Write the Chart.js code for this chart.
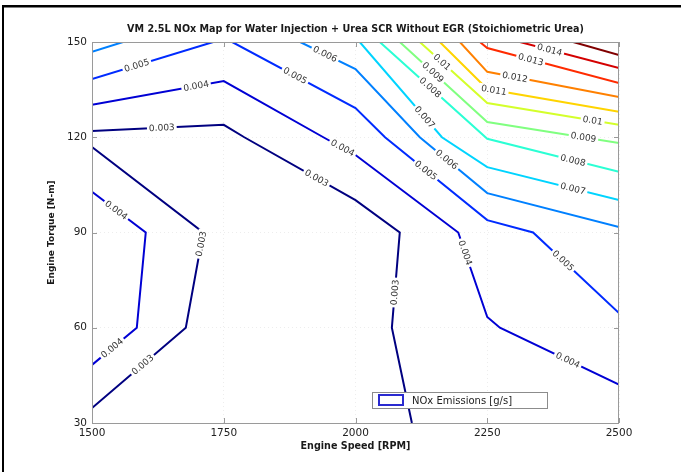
<!DOCTYPE html>
<html>
<head>
<meta charset="utf-8">
<script src="https://cdn.jsdelivr.net/npm/chart.js@4.4.1/dist/chart.umd.min.js"></script>
<style>
  html, body { margin: 0; padding: 0; background: #fff; }
  #wrap { position: relative; width: 681px; height: 472px; }
  canvas { display: block; }
</style>
</head>
<body>
<div id="wrap"><canvas id="c" width="681" height="472"></canvas></div>
<script>
// Axis ticks
const rpmTicks = [1500, 1750, 2000, 2250, 2500];
const torqueTicks = [30, 60, 90, 120, 150];

// Contour levels of NOx emissions [g/s]
const levels = [0.003, 0.004, 0.005, 0.006, 0.007, 0.008, 0.009, 0.010, 0.011, 0.012, 0.013, 0.014, 0.015];

// Contour polylines per level: [engine speed RPM, engine torque N-m]
const nox003 = [
  [[1500, 122.0], [1750, 123.9], [1789, 120], [2000, 100.2], [2084, 90], [2069, 60], [2107, 30]],
  [[1500, 116.9], [1711, 90], [1678, 60], [1500, 34.7]]
];
const nox004 = [
  [[1500, 130.2], [1750, 137.7], [1939, 120], [2000, 114.4], [2195, 90], [2250, 63.4], [2274, 60], [2500, 42.1]],
  [[1500, 102.8], [1602, 90], [1585, 60], [1500, 48.3]]
];
const nox005 = [
  [[1500, 138.3], [1730, 150]],
  [[1766, 150], [2000, 129.2], [2056, 120], [2250, 93.9], [2337, 90], [2500, 64.6]]
];
const nox006 = [
  [[1500, 146.9], [1559, 150]],
  [[1895, 150], [2000, 141.5], [2122, 120], [2250, 102.4], [2500, 91.7]]
];
const nox007 = [[[2008, 150], [2164, 120], [2250, 110.6], [2500, 100.2]]];
const nox008 = [[[2046, 150], [2250, 119.5], [2500, 109.1]]];
const nox009 = [[[2084, 150], [2250, 124.8], [2500, 118.2]]];
const nox010 = [[[2122, 150], [2250, 130.8], [2500, 123.9]]];
const nox011 = [[[2160, 150], [2250, 135.2], [2500, 128.0]]];
const nox012 = [[[2198, 150], [2250, 140.6], [2500, 132.7]]];
const nox013 = [[[2236, 150], [2250, 148.1], [2500, 137.1]]];
const nox014 = [[[2312, 150], [2500, 141.8]]];
const nox015 = [[[2413, 150], [2500, 145.9]]];

const contourPaths = [nox003, nox004, nox005, nox006, nox007, nox008, nox009,
                      nox010, nox011, nox012, nox013, nox014, nox015];

// Jet colormap colours for each level
const levelColors = ['#000080', '#0000d4', '#002bff', '#0080ff', '#00d4ff', '#2bffd4', '#80ff80',
                     '#d4ff2b', '#ffd400', '#ff8000', '#ff2b00', '#d40000', '#800000'];

// Inline label placement: level index, path, segment, fraction along segment
const labelSpots = [
  [0, 0, 0, 0.53], [0, 0, 2, 0.65], [0, 0, 4, 0.63], [0, 1, 1, 0.12], [0, 1, 2, 0.46],
  [1, 1, 0, 0.45], [1, 1, 2, 0.55], [1, 0, 0, 0.79], [1, 0, 2, 0.6], [1, 0, 4, 0.24], [1, 0, 6, 0.57],
  [2, 0, 0, 0.37], [2, 1, 0, 0.51], [2, 1, 2, 0.4], [2, 1, 4, 0.35],
  [3, 1, 0, 0.45], [3, 1, 2, 0.4],
  [4, 0, 0, 0.79], [4, 0, 2, 0.65],
  [5, 0, 0, 0.47], [5, 0, 1, 0.65],
  [6, 0, 0, 0.38], [6, 0, 1, 0.73],
  [7, 0, 0, 0.33], [7, 0, 1, 0.8],
  [8, 0, 1, 0.05],
  [9, 0, 1, 0.21],
  [10, 0, 1, 0.33],
  [11, 0, 0, 0.3]
];

const chartTitle = 'VM 2.5L NOx Map for Water Injection + Urea SCR Without EGR (Stoichiometric Urea)';
const xTitle = 'Engine Speed [RPM]';
const yTitle = 'Engine Torque [N-m]';
const legendText = 'NOx Emissions [g/s]';

const datasets = [];
contourPaths.forEach((paths, i) => {
  paths.forEach(path => {
    datasets.push({
      label: String(levels[i]),
      data: path.map(([x, y]) => ({ x, y })),
      borderColor: levelColors[i],
      borderWidth: 2,
      pointRadius: 0,
      showLine: true,
      fill: false,
      tension: 0
    });
  });
});

const decorations = {
  id: 'decorations',
  beforeDraw(chart) {
    const ctx = chart.ctx;
    ctx.save();
    ctx.fillStyle = '#fff';
    ctx.fillRect(0, 0, chart.width, chart.height);
    // outer frame
    ctx.fillStyle = '#000';
    ctx.fillRect(2, 5, chart.width - 2, 2.5);
    ctx.fillRect(2, 5, 2, chart.height - 5);
    ctx.restore();
  },
  afterDatasetsDraw(chart) {
    const ctx = chart.ctx;
    const xs = chart.scales.x, ys = chart.scales.y;
    const area = chart.chartArea;

    // inline contour labels
    ctx.save();
    ctx.font = '9px "DejaVu Sans"';
    ctx.textAlign = 'center';
    ctx.textBaseline = 'middle';
    labelSpots.forEach(([li, pi, si, f]) => {
      const path = contourPaths[li][pi];
      const a = path[si], b = path[si + 1];
      const x1 = xs.getPixelForValue(a[0]), y1 = ys.getPixelForValue(a[1]);
      const x2 = xs.getPixelForValue(b[0]), y2 = ys.getPixelForValue(b[1]);
      const px = x1 + (x2 - x1) * f, py = y1 + (y2 - y1) * f;
      let ang = Math.atan2(y2 - y1, x2 - x1);
      if (ang > Math.PI / 2) ang -= Math.PI;
      if (ang < -Math.PI / 2) ang += Math.PI;
      const text = String(levels[li]);
      const w = ctx.measureText(text).width;
      ctx.save();
      ctx.translate(px, py);
      ctx.rotate(ang);
      ctx.fillStyle = '#fff';
      ctx.fillRect(-w / 2 - 2, -5, w + 4, 10);
      ctx.fillStyle = '#333';
      ctx.fillText(text, 0, 0.5);
      ctx.restore();
    });
    ctx.restore();

    // axes box and inward ticks
    ctx.save();
    ctx.strokeStyle = '#9a9a9a';
    ctx.lineWidth = 1;
    ctx.strokeRect(area.left + 0.5, area.top + 0.5, area.right - area.left - 1, area.bottom - area.top);
    ctx.beginPath();
    rpmTicks.forEach(v => {
      const x = Math.round(xs.getPixelForValue(v)) + 0.5;
      ctx.moveTo(x, area.bottom); ctx.lineTo(x, area.bottom - 5);
      ctx.moveTo(x, area.top); ctx.lineTo(x, area.top + 5);
    });
    torqueTicks.forEach(v => {
      const y = Math.round(ys.getPixelForValue(v)) + 0.5;
      ctx.moveTo(area.left, y); ctx.lineTo(area.left + 5, y);
      ctx.moveTo(area.right, y); ctx.lineTo(area.right - 5, y);
    });
    ctx.stroke();
    ctx.restore();

    // legend
    ctx.save();
    const lw = 175, lh = 16;
    const lx = area.right - 72 - lw, ly = area.bottom - 15 - lh;
    ctx.fillStyle = '#fff';
    ctx.fillRect(lx, ly, lw, lh);
    ctx.strokeStyle = '#8c8c8c';
    ctx.lineWidth = 1;
    ctx.strokeRect(lx + 0.5, ly + 0.5, lw, lh);
    ctx.strokeStyle = '#2a2ad0';
    ctx.lineWidth = 2;
    ctx.strokeRect(lx + 7, ly + 3, 24, 10);
    ctx.fillStyle = '#222';
    ctx.font = '10px "DejaVu Sans"';
    ctx.textAlign = 'left';
    ctx.textBaseline = 'middle';
    ctx.fillText(legendText, lx + 40, ly + lh / 2 + 1);
    ctx.restore();

    // titles
    ctx.save();
    ctx.fillStyle = '#1a1a1a';
    ctx.textAlign = 'center';
    ctx.textBaseline = 'middle';
    const cx = (area.left + area.right) / 2;
    ctx.font = 'bold 9.6px "DejaVu Sans"';
    ctx.fillText(chartTitle, cx, area.top - 12.5);
    ctx.font = 'bold 9.6px "DejaVu Sans"';
    ctx.fillText(xTitle, cx, area.bottom + 23);
    ctx.save();
    ctx.translate(area.left - 40, (area.top + area.bottom) / 2);
    ctx.rotate(-Math.PI / 2);
    ctx.font = 'bold 9px "DejaVu Sans"';
    ctx.fillText(yTitle, 0, 0);
    ctx.restore();
    ctx.restore();
  }
};

new Chart(document.getElementById('c'), {
  type: 'scatter',
  data: { datasets },
  options: {
    responsive: false,
    animation: false,
    devicePixelRatio: 1,
    layout: { padding: { top: 42, right: 62, left: 0, bottom: 0 } },
    plugins: { legend: { display: false }, tooltip: { enabled: false } },
    scales: {
      x: {
        type: 'linear', min: 1500, max: 2500,
        afterBuildTicks: s => { s.ticks = rpmTicks.map(v => ({ value: v })); },
        afterFit: s => { s.height = 49; },
        grid: { color: 'rgba(0,0,0,0.07)', drawTicks: false, lineWidth: 1 },
        border: { display: false, dash: [1, 3] },
        ticks: { font: { family: 'DejaVu Sans', size: 10.5 }, color: '#222', padding: 4, maxRotation: 0, autoSkip: false,
                 callback: v => String(v) }
      },
      y: {
        type: 'linear', min: 30, max: 150,
        afterBuildTicks: s => { s.ticks = torqueTicks.map(v => ({ value: v })); },
        afterFit: s => { s.width = 92; },
        grid: { color: 'rgba(0,0,0,0.07)', drawTicks: false, lineWidth: 1 },
        border: { display: false, dash: [1, 3] },
        ticks: { font: { family: 'DejaVu Sans', size: 10.5 }, color: '#222', padding: 5, autoSkip: false,
                 callback: v => String(v) }
      }
    }
  },
  plugins: [decorations]
});
</script>
</body>
</html>
